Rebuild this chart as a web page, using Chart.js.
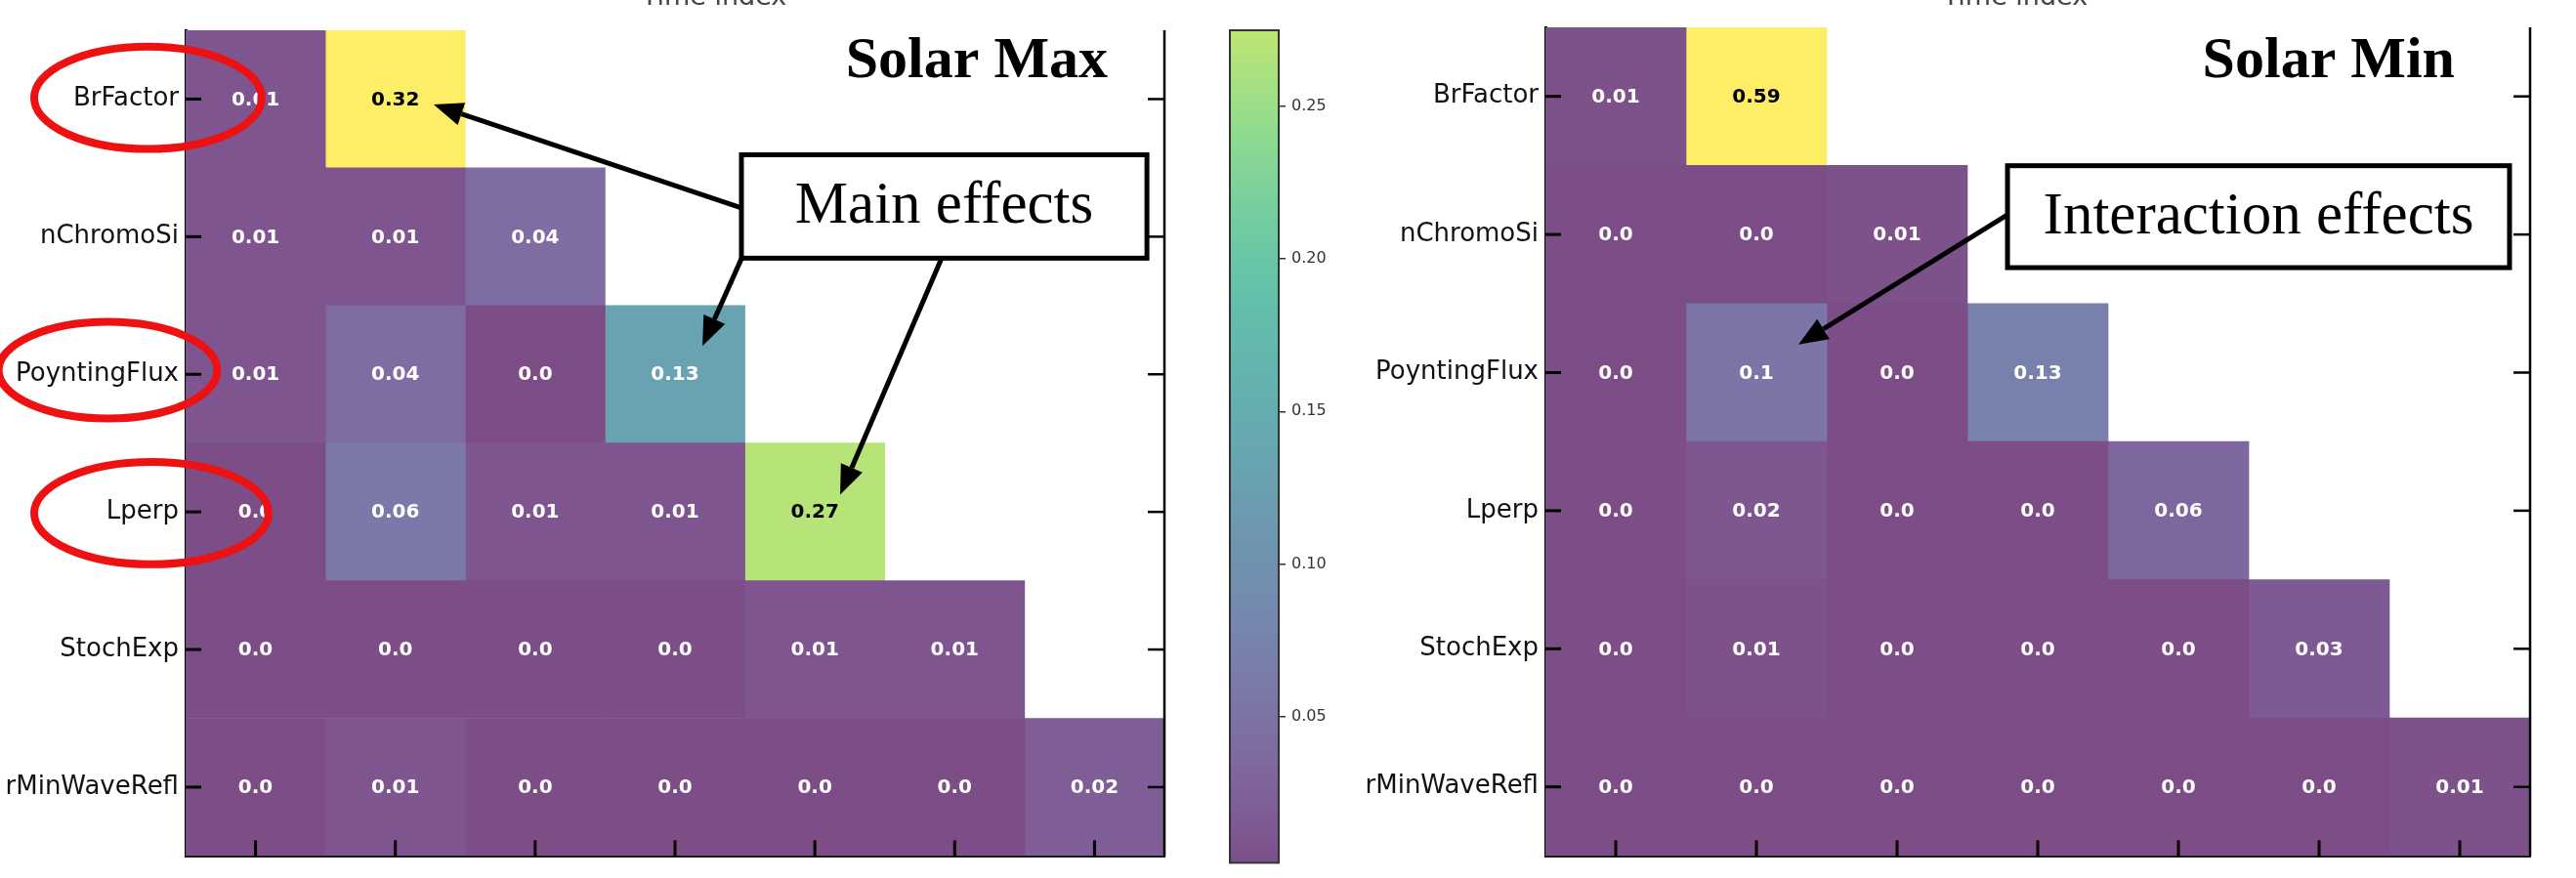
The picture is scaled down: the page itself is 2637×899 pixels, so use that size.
<!DOCTYPE html>
<html>
<head>
<meta charset="utf-8">
<title>Sobol sensitivity indices – Solar Max / Solar Min</title>
<script src="https://cdn.jsdelivr.net/npm/chart.js@4.4.1/dist/chart.umd.min.js"></script>
<style>
  html, body { margin: 0; padding: 0; background: #fff; }
  #wrap { position: relative; width: 2637px; height: 899px; overflow: hidden; background: #fff; }
  #wrap canvas { position: absolute; left: 0; top: 0; }
</style>
</head>
<body>
<div id="wrap">
  <canvas id="colorbar" width="2637" height="899"></canvas>
  <canvas id="solarMax" width="2637" height="899"></canvas>
  <canvas id="solarMin" width="2637" height="899"></canvas>
</div>
<script>
// ---- data -------------------------------------------------------------
const rowLabels = ['BrFactor', 'nChromoSi', 'PoyntingFlux', 'Lperp', 'StochExp', 'rMinWaveRefl'];
const columnCount = 7;

// Solar maximum: first- and second-order indices per parameter row
const maxBrFactor     = [0.01, 0.32];
const maxNChromoSi    = [0.01, 0.01, 0.04];
const maxPoyntingFlux = [0.01, 0.04, 0.0, 0.13];
const maxLperp        = [0.0, 0.06, 0.01, 0.01, 0.27];
const maxStochExp     = [0.0, 0.0, 0.0, 0.0, 0.01, 0.01];
const maxRMinWaveRefl = [0.0, 0.01, 0.0, 0.0, 0.0, 0.0, 0.02];

// Solar minimum
const minBrFactor     = [0.01, 0.59];
const minNChromoSi    = [0.0, 0.0, 0.01];
const minPoyntingFlux = [0.0, 0.1, 0.0, 0.13];
const minLperp        = [0.0, 0.02, 0.0, 0.0, 0.06];
const minStochExp     = [0.0, 0.01, 0.0, 0.0, 0.0, 0.03];
const minRMinWaveRefl = [0.0, 0.0, 0.0, 0.0, 0.0, 0.0, 0.01];

// colour bar
const colorbarRange = [0.002, 0.275];
const colorbarTicks = [0.05, 0.10, 0.15, 0.20, 0.25];

const maxRows = [maxBrFactor, maxNChromoSi, maxPoyntingFlux, maxLperp, maxStochExp, maxRMinWaveRefl];
const minRows = [minBrFactor, minNChromoSi, minPoyntingFlux, minLperp, minStochExp, minRMinWaveRefl];

// ---- colour map ---------------------------------------------------------
const VIRIDIS = ['#440154', '#48186a', '#472d7b', '#424086', '#3b528b', '#33638d', '#2c728e', '#26828e',
                 '#21918c', '#1fa088', '#28ae80', '#3fbc73', '#5ec962', '#84d44b', '#addc30', '#d8e219', '#fde725'];
const CELL_ALPHA = 0.7;

function hexToRgb(h) {
  return [parseInt(h.slice(1, 3), 16), parseInt(h.slice(3, 5), 16), parseInt(h.slice(5, 7), 16)];
}
// viridis colour, composited at the given opacity over a white page
function viridis(t, a) {
  t = Math.min(1, Math.max(0, t));
  const n = VIRIDIS.length - 1;
  const p = t * n;
  const i = Math.min(n - 1, Math.floor(p));
  const f = p - i;
  const c0 = hexToRgb(VIRIDIS[i]), c1 = hexToRgb(VIRIDIS[i + 1]);
  const c = c0.map((v, k) => Math.round((v + (c1[k] - v) * f) * a + 255 * (1 - a)));
  return `rgb(${c[0]},${c[1]},${c[2]})`;
}
function fmt(v) {
  return Number.isInteger(v) ? v.toFixed(1) : String(v);
}

// ---- drawing helpers ----------------------------------------------------
function drawArrow(ctx, x0, y0, x1, y1) {
  const ang = Math.atan2(y1 - y0, x1 - x0);
  const headLen = 30, headHalf = 12;
  const bx = x1 - headLen * Math.cos(ang), by = y1 - headLen * Math.sin(ang);
  ctx.beginPath();
  ctx.moveTo(x0, y0);
  ctx.lineTo(bx, by);
  ctx.stroke();
  ctx.beginPath();
  ctx.moveTo(x1, y1);
  ctx.lineTo(bx + headHalf * Math.sin(ang), by - headHalf * Math.cos(ang));
  ctx.lineTo(bx - headHalf * Math.sin(ang), by + headHalf * Math.cos(ang));
  ctx.closePath();
  ctx.fill();
}

// Decorations of one heat-map panel: cell values, inward ticks, right spine,
// title, callout box with arrows and highlight ellipses.
function panelDecor(spec) {
  return {
    id: 'decor' + spec.key,
    afterDatasetsDraw(chart) {
      const { ctx } = chart;
      const xs = chart.scales.x, ys = chart.scales.y;
      ctx.save();
      ctx.font = 'bold 20px "DejaVu Sans"';
      ctx.textAlign = 'center';
      ctx.textBaseline = 'middle';
      spec.rows.forEach((row, r) => row.forEach((v, c) => {
        ctx.fillStyle = v / spec.vmax > 0.5 ? '#000' : '#fff';
        ctx.fillText(fmt(v), xs.getPixelForValue(c + 0.5), ys.getPixelForValue(r) + 1);
      }));
      ctx.restore();
    },
    afterDraw(chart) {
      const { ctx, chartArea: a } = chart;
      const xs = chart.scales.x, ys = chart.scales.y;
      const px = (cx) => xs.getPixelForValue(cx);
      const py = (ry) => ys.getPixelForValue(ry);
      const colW = px(1) - px(0);
      const rowH = py(1) - py(0);
      ctx.save();
      ctx.strokeStyle = '#000';
      ctx.fillStyle = '#000';
      ctx.lineCap = 'butt';

      // right spine
      ctx.lineWidth = 2.5;
      ctx.beginPath();
      ctx.moveTo(a.right, a.top);
      ctx.lineTo(a.right, a.bottom);
      ctx.stroke();

      // inward ticks on left / right / bottom
      for (let r = 0; r < rowLabels.length; r++) {
        const y = py(r);
        ctx.lineWidth = 3;
        ctx.beginPath(); ctx.moveTo(a.left, y); ctx.lineTo(a.left + 16, y); ctx.stroke();
        ctx.lineWidth = 2.5;
        ctx.beginPath(); ctx.moveTo(a.right - 17, y); ctx.lineTo(a.right, y); ctx.stroke();
      }
      ctx.lineWidth = 3;
      for (let c = 0; c < columnCount; c++) {
        const x = px(c + 0.5);
        ctx.beginPath(); ctx.moveTo(x, a.bottom); ctx.lineTo(x, a.bottom - 16); ctx.stroke();
      }

      // clipped axis label of the panel above
      ctx.font = '27px "DejaVu Sans"';
      ctx.fillStyle = '#444';
      ctx.textAlign = 'center';
      ctx.textBaseline = 'alphabetic';
      ctx.fillText('Time index', px(spec.topLabel.x), 5);

      // title
      ctx.fillStyle = '#000';
      ctx.font = 'bold 60px "Liberation Serif"';
      ctx.textAlign = 'right';
      ctx.fillText(spec.title.text, px(spec.title.x), py(spec.title.y));

      // arrows
      ctx.lineWidth = 5;
      spec.arrows.forEach(([x0, y0, x1, y1]) => drawArrow(ctx, px(x0), py(y0), px(x1), py(y1)));

      // callout box
      const b = spec.box;
      const bx0 = px(b.x0), bx1 = px(b.x1), by0 = py(b.y0), by1 = py(b.y1);
      ctx.fillStyle = '#fff';
      ctx.fillRect(bx0, by0, bx1 - bx0, by1 - by0);
      ctx.lineWidth = 5;
      ctx.strokeStyle = '#000';
      ctx.strokeRect(bx0, by0, bx1 - bx0, by1 - by0);
      ctx.fillStyle = '#000';
      ctx.font = '61px "Liberation Serif"';
      ctx.textAlign = 'center';
      ctx.fillText(b.text, (bx0 + bx1) / 2, py(b.ty));

      // highlight ellipses
      ctx.strokeStyle = '#ee1111';
      ctx.lineWidth = 8;
      spec.ellipses.forEach(e => {
        ctx.beginPath();
        ctx.ellipse(px(e.cx), py(e.cy), e.rx * colW, e.ry * rowH, 0, 0, Math.PI * 2);
        ctx.stroke();
      });
      ctx.restore();
    }
  };
}

function heatmap(canvasId, spec) {
  const vmax = Math.max(...spec.rows.flat());
  spec.vmax = vmax;
  const datasets = [];
  for (let c = 0; c < columnCount; c++) {
    datasets.push({
      data: spec.rows.map(row => (c < row.length ? [c, c + 1] : null)),
      backgroundColor: spec.rows.map(row => (c < row.length ? viridis(row[c] / vmax, CELL_ALPHA) : 'rgba(0,0,0,0)')),
      borderWidth: 0,
      barPercentage: 1,
      categoryPercentage: 1,
      grouped: false
    });
  }
  return new Chart(document.getElementById(canvasId), {
    type: 'bar',
    data: { labels: rowLabels, datasets },
    options: {
      indexAxis: 'y',
      responsive: false,
      animation: false,
      devicePixelRatio: 1,
      events: [],
      layout: { padding: { left: 0, top: spec.area.top, right: 2637 - spec.area.right, bottom: 0 } },
      plugins: { legend: { display: false }, tooltip: { enabled: false } },
      scales: {
        x: {
          type: 'linear', min: 0, max: columnCount,
          grid: { display: false, drawTicks: false },
          ticks: { display: false },
          border: { display: true, width: 3, color: '#000' },
          afterFit(s) { s.height = 899 - spec.area.bottom; }
        },
        y: {
          type: 'category', offset: true,
          grid: { display: false, drawTicks: false },
          ticks: { font: { family: 'DejaVu Sans', size: 26 }, color: '#111', padding: 7, autoSkip: false },
          border: { display: true, width: 3, color: '#000' },
          afterFit(s) { s.width = spec.area.left; }
        }
      }
    },
    plugins: [panelDecor(spec)]
  });
}

// ---- panels --------------------------------------------------------------
heatmap('solarMax', {
  key: 'Max',
  rows: maxRows,
  area: { left: 190, top: 31, right: 1192, bottom: 886 },
  title: { text: 'Solar Max', x: 6.595, y: -0.156 },
  topLabel: { x: 3.78 },
  box: { text: 'Main effects', x0: 3.975, x1: 6.875, y0: 0.405, y1: 1.156, ty: 0.896 },
  arrows: [
    [3.975, 0.791, 1.774, 0.040],
    [3.989, 1.128, 3.696, 1.795],
    [5.407, 1.156, 4.681, 2.875]
  ],
  ellipses: [
    { cx: -0.269, cy: -0.009, rx: 0.814, ry: 0.372 },
    { cx: -0.555, cy: 1.970, rx: 0.782, ry: 0.351 },
    { cx: -0.245, cy: 3.009, rx: 0.838, ry: 0.372 }
  ]
});

heatmap('solarMin', {
  key: 'Min',
  rows: minRows,
  area: { left: 1582, top: 28, right: 2590, bottom: 890 },
  title: { text: 'Solar Min', x: 6.465, y: -0.138 },
  topLabel: { x: 3.34 },
  box: { text: 'Interaction effects', x0: 3.285, x1: 6.854, y0: 0.502, y1: 1.240, ty: 0.990 },
  arrows: [
    [3.285, 0.857, 1.799, 1.797]
  ],
  ellipses: []
});

// ---- colour bar (shared scale of the Solar Max panel) ---------------------
const colorbarVmax = Math.max(...maxRows.flat());
new Chart(document.getElementById('colorbar'), {
  type: 'bar',
  data: {
    labels: [''],
    datasets: [{
      data: [colorbarRange],
      borderWidth: 0,
      barPercentage: 1,
      categoryPercentage: 1,
      backgroundColor(ctx) {
        const area = ctx.chart.chartArea;
        if (!area) return 'rgba(0,0,0,0)';
        const g = ctx.chart.ctx.createLinearGradient(0, area.bottom, 0, area.top);
        const steps = 24;
        for (let i = 0; i <= steps; i++) {
          const t = i / steps;
          const v = colorbarRange[0] + t * (colorbarRange[1] - colorbarRange[0]);
          g.addColorStop(t, viridis(v / colorbarVmax, CELL_ALPHA));
        }
        return g;
      }
    }]
  },
  options: {
    responsive: false,
    animation: false,
    devicePixelRatio: 1,
    events: [],
    layout: { padding: { left: 1259, top: 31, right: 0, bottom: 12 } },
    plugins: { legend: { display: false }, tooltip: { enabled: false } },
    scales: {
      x: { display: false },
      y: {
        position: 'right',
        min: colorbarRange[0],
        max: colorbarRange[1],
        afterBuildTicks(s) { s.ticks = colorbarTicks.map(v => ({ value: v })); },
        ticks: {
          callback: (v) => Number(v).toFixed(2),
          font: { family: 'DejaVu Sans', size: 16 },
          color: '#333',
          padding: 6
        },
        grid: { drawOnChartArea: false, tickLength: 7, color: '#333', lineWidth: 1.5 },
        border: { display: false },
        afterFit(s) { s.width = 2637 - 1309; }
      }
    }
  },
  plugins: [{
    id: 'colorbarFrame',
    afterDraw(chart) {
      const { ctx, chartArea: a } = chart;
      ctx.save();
      ctx.strokeStyle = '#333';
      ctx.lineWidth = 2;
      ctx.strokeRect(a.left, a.top, a.right - a.left, a.bottom - a.top);
      ctx.restore();
    }
  }]
});
</script>
</body>
</html>
